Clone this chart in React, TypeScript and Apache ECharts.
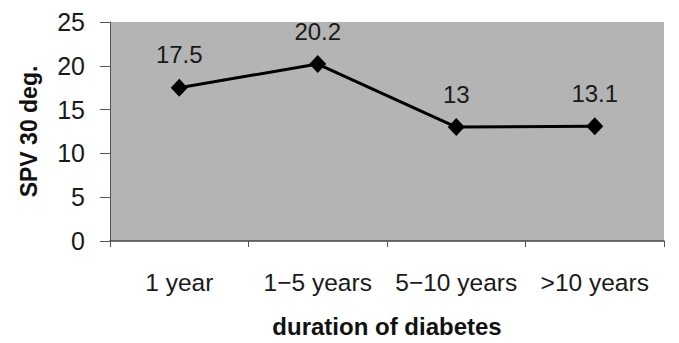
import React, { useEffect, useRef } from "react";
import * as echarts from "echarts";

const categories = ["1 year", "1\u22125 years", "5\u221210 years", ">10 years"];
const values = [17.5, 20.2, 13, 13.1];
const yTicks = { min: 0, max: 25, interval: 5 };

export default function App() {
  const ref = useRef<HTMLDivElement>(null);
  useEffect(() => {
    if (!ref.current) return;
    const chart = echarts.init(ref.current, null, { renderer: "svg" });
    const font = "'Liberation Sans', Arial, sans-serif";
    chart.setOption({
      animation: false,
      backgroundColor: "#ffffff",
      grid: {
        left: 110,
        right: 15,
        top: 22,
        bottom: 95,
        show: true,
        backgroundColor: "#b4b4b4",
        borderWidth: 0,
      },
      xAxis: {
        type: "category",
        data: categories,
        boundaryGap: true,
        name: "duration of diabetes",
        nameLocation: "middle",
        nameGap: 73,
        nameTextStyle: { fontFamily: font, fontSize: 24, fontWeight: "bold", color: "#111", verticalAlign: "top" },
        axisLine: { lineStyle: { color: "#444", width: 1.5 } },
        axisTick: { show: true, length: 6, alignWithLabel: false, lineStyle: { color: "#555" } },
        axisLabel: { fontFamily: font, fontSize: 24.5, color: "#1a1a1a", margin: 29, interval: 0 },
        splitLine: { show: false },
      },
      yAxis: {
        type: "value",
        min: yTicks.min,
        max: yTicks.max,
        interval: yTicks.interval,
        name: "SPV 30 deg.",
        nameLocation: "middle",
        nameGap: 70,
        nameRotate: 90,
        nameTextStyle: { fontFamily: font, fontSize: 23, fontWeight: "bold", color: "#111" },
        axisLine: { show: true, lineStyle: { color: "#555", width: 1 } },
        axisTick: { show: true, length: 10, lineStyle: { color: "#555" } },
        axisLabel: { fontFamily: font, fontSize: 25, color: "#1a1a1a", margin: 25 },
        splitLine: { show: false },
      },
      series: [
        {
          type: "line",
          data: values,
          symbol: "diamond",
          symbolSize: [17, 18],
          lineStyle: { color: "#000", width: 3 },
          itemStyle: { color: "#000" },
          label: {
            show: true,
            position: "top",
            distance: 12,
            fontFamily: font,
            fontSize: 24,
            color: "#1a1a1a",
          },
        },
      ],
    });
    return () => chart.dispose();
  }, []);
  return <div ref={ref} style={{ width: 679, height: 343, margin: -8 }} />;
}
